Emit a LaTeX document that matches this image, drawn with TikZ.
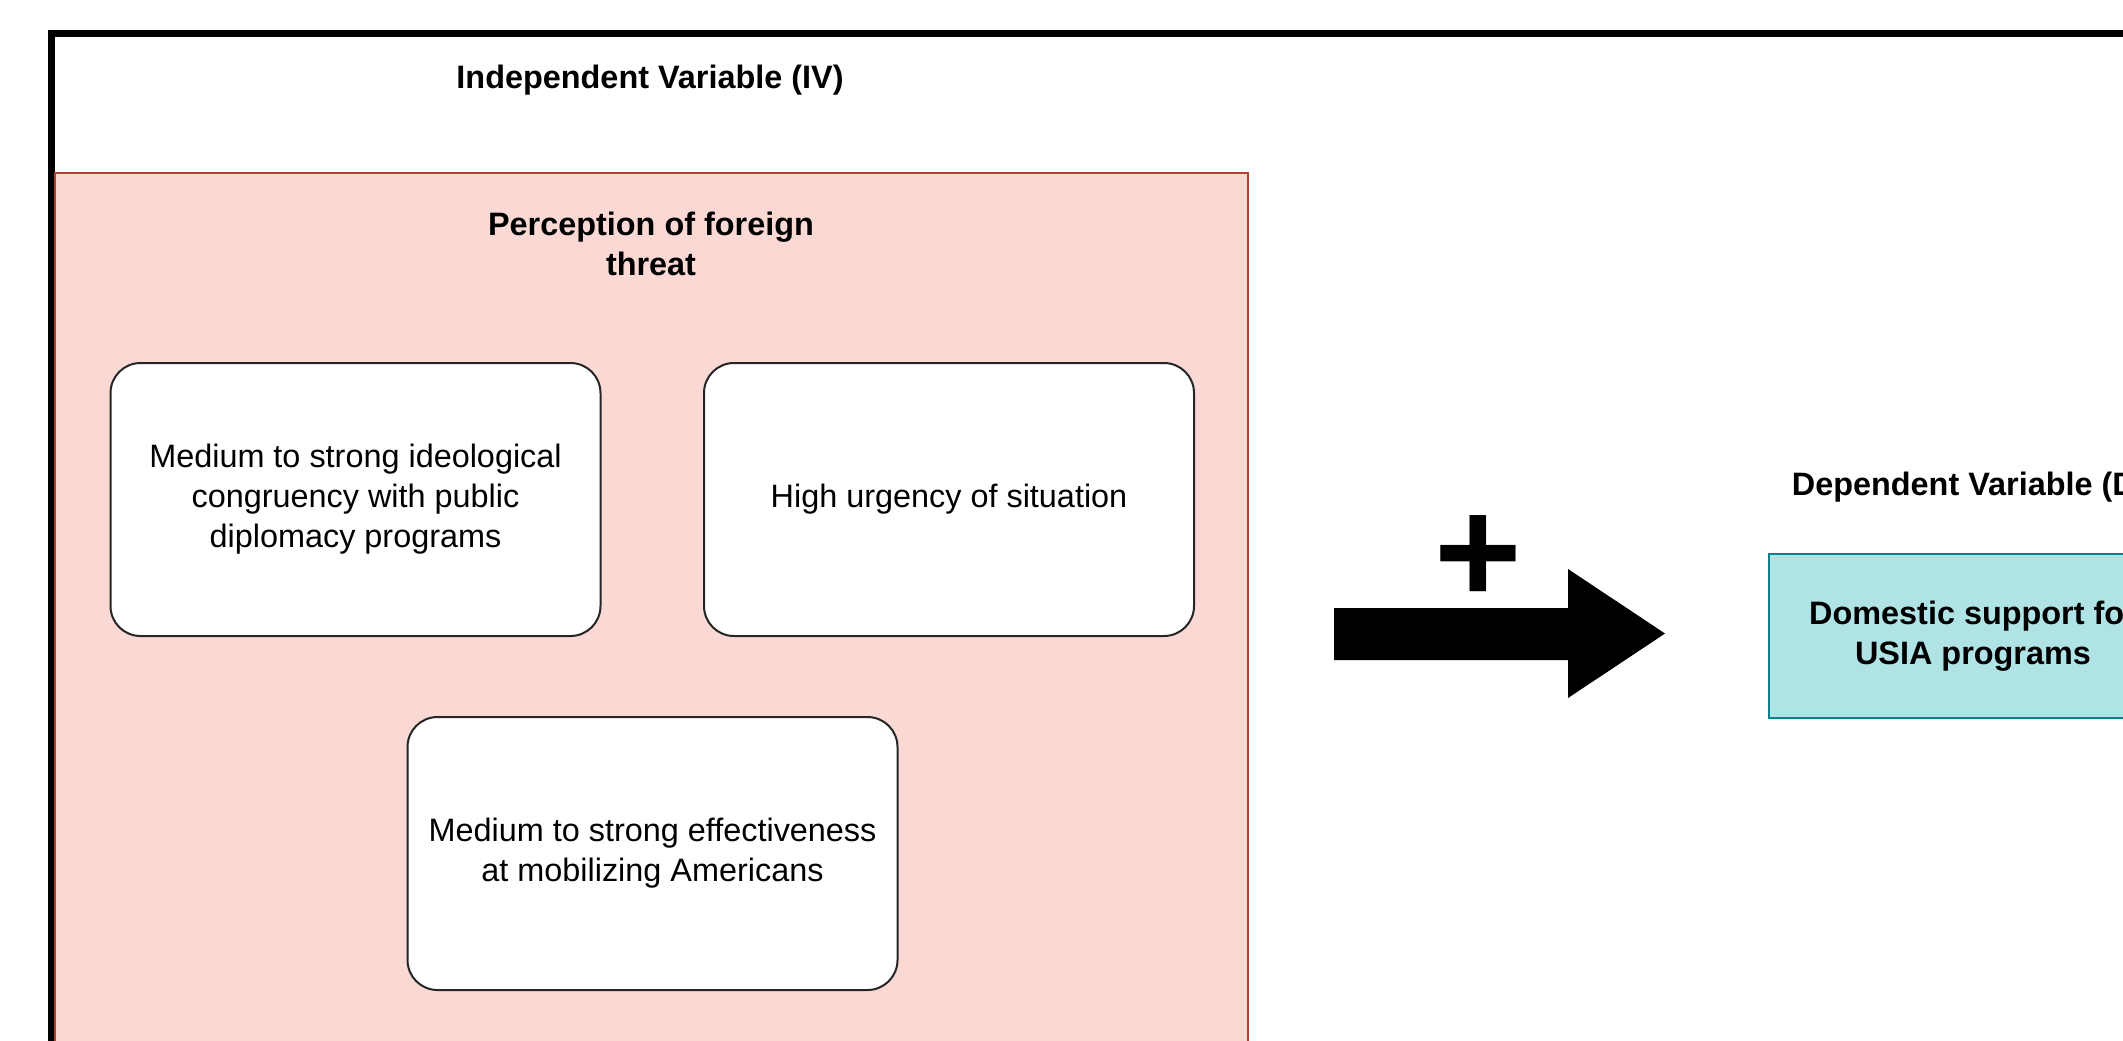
\documentclass[tikz,border=0pt]{standalone}
\usepackage{fontspec}
\setmainfont{Liberation Sans}
\definecolor{threatfill}{HTML}{FAD9D5}
\definecolor{threatline}{HTML}{AE4132}
\definecolor{dvfill}{HTML}{B0E3E6}
\definecolor{dvline}{HTML}{0E8088}
\begin{document}
\begin{tikzpicture}[x=0.5pt,y=0.5pt]
\tikzstyle{every node}+=[inner sep=0pt, align=center, font=\fontsize{16.2}{20}\selectfont]
\tikzstyle{factor}=[draw=black!85, fill=white, line width=1pt, rounded corners=15pt, minimum width=245pt, minimum height=136.5pt]
\tikzstyle{heading}=[font=\fontsize{16.2}{20}\selectfont\bfseries]
\useasboundingbox (0,0) rectangle (2123,-1040);
\clip (0,0) rectangle (2123,-1040);
\fill [white] (0,0) rectangle (2123,-1040);
\draw [black, line width=3.5pt] (51.5,-33) rectangle (2300,-1200);
\draw [threatline, fill=threatfill, line width=1pt] (55,-173) rectangle (1248,-1100);
\node [heading] (ivlabel) at (650,-80) {Independent Variable (IV)};
\node [heading] (threat) at (651,-244) {Perception of foreign\\threat};
\node [factor] (ideology) at (355.5,-499.5) {Medium to strong ideological\\congruency with public\\diplomacy programs};
\node [factor] (urgency) at (949,-499.5) {High urgency of situation};
\node [factor] (mobilize) at (652.5,-853.5) {Medium to strong effectiveness\\at mobilizing Americans};
\fill [black] (1334,-608) -- (1568,-608) -- (1568,-569) -- (1665,-633.5) -- (1568,-698) -- (1568,-660) -- (1334,-660) -- cycle;
\node [font=\fontsize{75}{78}\selectfont\bfseries] (plus) at (1478,-560) {+};
\node [heading] (dvlabel) at (1980,-487) {Dependent Variable (DV)};
\node [heading, draw=dvline, fill=dvfill, line width=1.2pt, minimum width=204pt, minimum height=82pt] (support) at (1973,-636) {Domestic support for\\USIA programs};
\end{tikzpicture}
\end{document}
